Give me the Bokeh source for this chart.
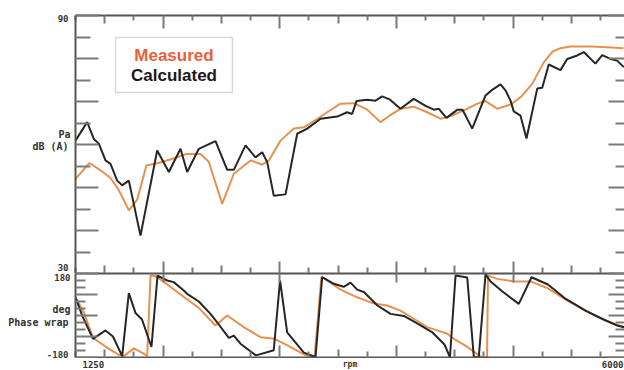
from bokeh.plotting import figure
from bokeh.models import Range1d, FixedTicker, LinearAxis, Label, BoxAnnotation
from bokeh.layouts import column, row
from bokeh.embed import file_html
from bokeh.resources import INLINE

# ---------------- data ----------------
# Level (Pa dB(A)) vs rpm
rpm_calc_level = [1250, 1350, 1407, 1450, 1507, 1550, 1607, 1650, 1707, 1807,
                  1950, 2050, 2150, 2207, 2307, 2450, 2550, 2607, 2707, 2793,
                  2850, 2893, 2949, 3050, 3150, 3236, 3350, 3493, 3578, 3621,
                  3658, 3750, 3821, 3878, 3941, 4035, 4149, 4250, 4321, 4364,
                  4429, 4524, 4567, 4650, 4764, 4821, 4892, 4935, 4978, 5006,
                  5064, 5115, 5207, 5250, 5306, 5406, 5464, 5550, 5606, 5706,
                  5764, 5835, 5892, 5949]
db_calc = [60.9, 65.2, 61.3, 60.2, 56.3, 55.5, 51.6, 50.5, 51.6, 38.8,
           58.6, 53.6, 59.0, 53.6, 59.0, 60.8, 54.1, 54.1, 59.8, 57.0,
           58.2, 55.9, 48.1, 48.4, 62.5, 63.7, 66.0, 66.5, 67.5, 67.1,
           70.1, 70.4, 70.2, 71.2, 70.5, 68.3, 70.6, 69.0, 68.1, 68.3,
           66.2, 68.1, 68.1, 63.7, 71.4, 72.7, 74.0, 72.6, 70.2, 67.7,
           66.7, 61.4, 73.0, 73.2, 78.6, 77.3, 79.9, 80.7, 81.5, 78.8,
           80.8, 79.9, 79.5, 78.0]

rpm_meas_level = [1250, 1370, 1464, 1550, 1619, 1707, 1779, 1858, 1961, 2081,
                  2201, 2321, 2392, 2507, 2607, 2750, 2850, 2907, 3007, 3121,
                  3207, 3307, 3407, 3521, 3635, 3750, 3864, 3941, 4035, 4149,
                  4264, 4378, 4464, 4592, 4695, 4764, 4867, 4987, 5072, 5164,
                  5263, 5338, 5406, 5492, 5664, 5807, 5946]
db_meas = [52.0, 55.7, 54.0, 52.2, 49.5, 44.7, 47.2, 55.1, 55.7, 56.7,
           57.8, 57.8, 56.0, 46.2, 53.2, 56.3, 55.3, 56.3, 60.9, 63.7,
           64.0, 65.7, 67.5, 69.5, 69.6, 68.1, 65.2, 66.7, 68.3, 68.8,
           67.5, 66.0, 66.6, 68.1, 69.5, 70.1, 68.3, 69.4, 71.2, 74.1,
           79.1, 81.6, 82.4, 82.8, 82.8, 82.6, 82.4]

# Phase (deg, wrapped) vs rpm
rpm_calc_phase = [1250, 1310, 1400, 1507, 1571, 1650, 1707, 1764, 1820, 1901,
                  1953, 2036, 2092, 2178, 2207, 2307, 2407, 2464, 2564, 2607,
                  2664, 2797, 2949, 3003, 3064, 3207, 3307, 3364, 3464, 3549,
                  3607, 3664, 3721, 3838, 3950, 4064, 4178, 4305, 4412, 4459,
                  4507, 4607, 4664, 4706, 4764, 4807, 4909, 5049, 5158, 5299,
                  5449, 5621, 5766, 5892, 5952]
deg_calc = [78, -4, -100, -64, -90, -174, 96, 11, -17, -135,
            171, 150, 143, 107, 93, 60, 7, -29, -96, -86,
            -121, -171, -149, 150, -72, -159, -178, 164, 136, 123,
            141, 111, 101, 43, 7, -2, -34, -71, -124, -179,
            171, 163, -179, -179, 176, 146, 103, 50, 164, 133,
            72, 21, -15, -43, -50]

rpm_meas_phase = [1250, 1321, 1400, 1507, 1614, 1664, 1750, 1828, 1864, 1893,
                  1936, 2007, 2150, 2304, 2450, 2550, 2692, 2835, 2955, 3071,
                  3207, 3298, 3358, 3435, 3521, 3664, 3807, 3921, 4035, 4149,
                  4264, 4364, 4436, 4492, 4592, 4721, 4777, 4785, 4864, 5006,
                  5149, 5292, 5464, 5635, 5792, 5949]
deg_meas = [77, 14, -96, -133, -167, -174, -141, -161, -174, 171,
            169, 144, 90, 34, -43, 0, -50, -93, -100, -129,
            -167, -180, 167, 141, 111, 78, 51, 43, 21, -14,
            -50, -66, -78, -100, -129, -176, -180, 171, 157, 146,
            146, 118, 64, 17, -21, -50]

# axis ticks / labels
X_START, X_END = 1250, 5955
rpm_ticks_1000 = [2000, 3000, 4000, 5000]
rpm_ticks_500 = [1500, 2500, 3500, 4500, 5500]
rpm_ticks_250 = [1250, 1750, 2250, 2750, 3250, 3750, 4250, 4750, 5250, 5750]
db_ticks_10 = [30, 40, 50, 60, 70, 80, 90]
db_ticks_5 = [35, 45, 55, 65, 75, 85]
deg_ticks_90 = [-180, -90, 0, 90, 180]
deg_ticks_30 = [-150, -120, -60, -30, 30, 60, 120, 150]

# ---------------- styling ----------------
CALC_COLOR = "#262626"
MEAS_COLOR = "#e8914f"
MEAS_TEXT = "#e8603c"
AX_COLOR = "#555555"
TICK_COLOR = "#7a7a7a"
TXT = "#333333"
MONO = "DejaVu Sans Mono"

LEFT_W = 73          # width of the left text strip
MAIN_W = 624 - LEFT_W


def tick_axis(ticks, length, line=False):
    """Label-free axis: marks drawn as (minor) inward ticks only."""
    ax = LinearAxis(ticker=FixedTicker(ticks=[], minor_ticks=ticks))
    ax.major_tick_in = 0
    ax.major_tick_out = 0
    ax.minor_tick_in = length
    ax.minor_tick_out = 0
    ax.major_label_standoff = 0
    ax.axis_line_color = AX_COLOR if line else None
    ax.axis_line_width = 2
    ax.minor_tick_line_color = TICK_COLOR
    ax.minor_tick_line_width = 2
    return ax


def add_ticks(p, side, spec, line=True):
    for i, (ticks, length) in enumerate(spec):
        p.add_layout(tick_axis(ticks, length, line=(line and i == 0)), side)


def base_fig(width, height, xr, yr, left=0, top=0, bottom=0):
    p = figure(width=width, height=height, x_range=xr, y_range=yr,
               output_backend="svg", toolbar_location=None,
               x_axis_location=None, y_axis_location=None,
               min_border_left=left, min_border_right=0,
               min_border_top=top, min_border_bottom=bottom)
    p.outline_line_color = None
    p.background_fill_color = "white"
    p.border_fill_color = "white"
    p.grid.visible = False
    return p


def txt(p, text, x, y, align, baseline="middle", xo=0, yo=0, size="9px",
        font=MONO, color=TXT, style="bold"):
    p.add_layout(Label(x=x, y=y, text=text, x_offset=xo, y_offset=yo,
                       text_align=align, text_baseline=baseline,
                       text_font=font, text_font_size=size,
                       text_font_style=style, text_color=color))


# ---------------- top panel: level ----------------
p1 = base_fig(MAIN_W, 273, Range1d(X_START, X_END), Range1d(30, 90), left=2, top=15)
add_ticks(p1, "left", [(db_ticks_10, 23), (db_ticks_5, 15)])
add_ticks(p1, "right", [(db_ticks_10, 16), (db_ticks_5, 9)], line=False)
add_ticks(p1, "above", [(rpm_ticks_1000, 13), (rpm_ticks_500, 8), (rpm_ticks_250, 5)])
add_ticks(p1, "below", [(rpm_ticks_1000, 12), (rpm_ticks_500, 8), (rpm_ticks_250, 6)])

p1.line(rpm_meas_level, db_meas, line_color=MEAS_COLOR, line_width=2)
p1.line(rpm_calc_level, db_calc, line_color=CALC_COLOR, line_width=2)

p1.add_layout(BoxAnnotation(left=1593, right=2595, bottom=72.1, top=84.9,
                            fill_color="white", fill_alpha=1.0,
                            line_color="#808080", line_width=1.5))
txt(p1, "Measured", 2094, 80.7, "center", size="17px",
    font="Liberation Sans", color=MEAS_TEXT)
txt(p1, "Calculated", 2094, 76.0, "center", size="17px",
    font="Liberation Sans", color="#1a1a1a")

# ---------------- bottom panel: phase ----------------
p2 = base_fig(MAIN_W, 85, Range1d(X_START, X_END), Range1d(-180, 180), left=2, bottom=1)
add_ticks(p2, "left", [(deg_ticks_90, 22), (deg_ticks_30, 10)])
add_ticks(p2, "right", [(deg_ticks_90, 16), (deg_ticks_30, 9)], line=False)
add_ticks(p2, "above", [(rpm_ticks_1000, 9)])
add_ticks(p2, "below", [(rpm_ticks_1000, 12), (rpm_ticks_500, 8), (rpm_ticks_250, 6)])

p2.line(rpm_meas_phase, deg_meas, line_color=MEAS_COLOR, line_width=2)
p2.line(rpm_calc_phase, deg_calc, line_color=CALC_COLOR, line_width=2)

# ---------------- x-axis texts strip (below the phase panel) ----------------
pb = base_fig(MAIN_W, 12, Range1d(X_START, X_END), Range1d(12, 0), left=2)
txt(pb, "1250", X_START, 6, "left", xo=7)
txt(pb, "6000", X_END, 6, "right", xo=-1)
txt(pb, "rpm", (X_START + X_END) / 2, 6, "center", size="8px")

# ---------------- y-axis texts strip (left of both panels) ----------------
# coordinates of this strip are page pixels (x from left, y from top)
pl = base_fig(LEFT_W, 370, Range1d(0, LEFT_W), Range1d(370, 0))
txt(pl, "90", 68, 18, "right")
txt(pl, "Pa", 70, 134, "right", size="10px")
txt(pl, "dB (A)", 68, 146, "right", size="10px")
txt(pl, "30", 68, 267, "right")
txt(pl, "180", 70, 277, "right")
txt(pl, "deg", 70, 309, "right", size="10px")
txt(pl, "Phase wrap", 68, 322, "right", size="10px")
txt(pl, "-180", 68, 354, "right")

layout = row(pl, column(p1, p2, pb, spacing=0), spacing=0)
open("out.html", "w").write(file_html(layout, INLINE))
